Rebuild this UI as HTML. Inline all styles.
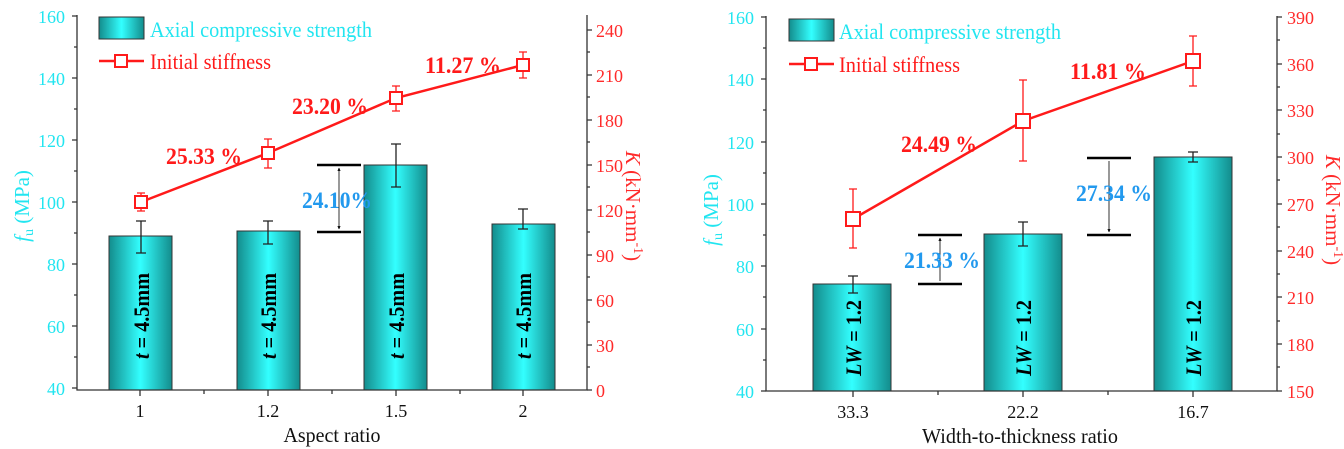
<!DOCTYPE html>
<html><head><meta charset="utf-8"><style>
html,body{margin:0;padding:0;background:#fff;width:1344px;height:449px;overflow:hidden}
svg{display:block}
text{font-family:"Liberation Serif",serif}
</style></head><body>
<svg width="1344" height="449" viewBox="0 0 1344 449" xmlns="http://www.w3.org/2000/svg">
<defs>
<linearGradient id="g" x1="0" x2="1" y1="0" y2="0">
<stop offset="0" stop-color="#138c8c"/><stop offset="0.5" stop-color="#33ffff"/><stop offset="1" stop-color="#138c8c"/>
</linearGradient>
<marker id="ah" viewBox="0 0 10 10" refX="9" refY="5" markerWidth="4" markerHeight="6" orient="auto-start-reverse"><path d="M0,0 L10,5 L0,10 z" fill="#000"/></marker>
</defs>

<!-- LEFT CHART -->
<g>
<g stroke="#333" stroke-width="1" fill="url(#g)">
<rect x="109" y="236" width="63" height="154"/>
<rect x="237" y="231" width="63" height="159"/>
<rect x="364" y="165" width="63" height="225"/>
<rect x="492" y="224" width="63" height="166"/>
</g>
<g stroke="#222" stroke-width="1.3" fill="none">
<path d="M141 221V253M136 221h10M136 253h10"/>
<path d="M268 221V244M263 221h10M263 244h10"/>
<path d="M396 144V187M391 144h10M391 187h10"/>
<path d="M523 209V229M518 209h10M518 229h10"/>
</g>
<g font-weight="bold" font-style="italic" font-size="22" fill="#000" text-anchor="middle">
<text transform="translate(149,316) rotate(-90)" textLength="86" lengthAdjust="spacingAndGlyphs">t <tspan font-style="normal">= 4.5mm</tspan></text>
<text transform="translate(276,316) rotate(-90)" textLength="86" lengthAdjust="spacingAndGlyphs">t <tspan font-style="normal">= 4.5mm</tspan></text>
<text transform="translate(404,316) rotate(-90)" textLength="86" lengthAdjust="spacingAndGlyphs">t <tspan font-style="normal">= 4.5mm</tspan></text>
<text transform="translate(531,316) rotate(-90)" textLength="86" lengthAdjust="spacingAndGlyphs">t <tspan font-style="normal">= 4.5mm</tspan></text>
</g>
<polyline points="141,202 268,153 396,98 523,65" fill="none" stroke="#ff1a1a" stroke-width="2.5"/>
<g stroke="#ff1a1a" stroke-width="1.3" fill="none">
<path d="M141 193V211M137 193h8M137 211h8"/>
<path d="M268 139V168M264 139h8M264 168h8"/>
<path d="M396 86V111M392 86h8M392 111h8"/>
<path d="M523 52V78M519 52h8M519 78h8"/>
</g>
<g stroke="#ff1a1a" stroke-width="2" fill="#fff">
<rect x="135" y="196" width="12" height="12"/>
<rect x="262" y="147" width="12" height="12"/>
<rect x="390" y="92" width="12" height="12"/>
<rect x="517" y="59" width="12" height="12"/>
</g>
<g stroke="#000">
<path d="M317 165H361M317 232H361" stroke-width="2.5"/>
<path d="M339 168V229" stroke-width="0.8" marker-start="url(#ah)" marker-end="url(#ah)"/>
</g>
<text x="337" y="208" font-size="23" font-weight="bold" fill="#2299ee" text-anchor="middle" textLength="70" lengthAdjust="spacingAndGlyphs">24.10%</text>
<g font-size="23" font-weight="bold" fill="#ff1a1a" text-anchor="middle">
<text x="204" y="164" textLength="76" lengthAdjust="spacingAndGlyphs">25.33 %</text>
<text x="330" y="114" textLength="76" lengthAdjust="spacingAndGlyphs">23.20 %</text>
<text x="463" y="73" textLength="76" lengthAdjust="spacingAndGlyphs">11.27 %</text>
</g>
<g stroke="#333" stroke-width="1.3" fill="none">
<path d="M77 15V390H587V15"/>
<path d="M72 16h5M72 78h5M72 140h5M72 202h5M72 264h5M72 326h5M72 388h5"/>
<path d="M74 47h3M74 109h3M74 171h3M74 233h3M74 295h3M74 357h3"/>
<path d="M140 390v6M268 390v6M396 390v6M523 390v6M204 390v4M332 390v4M460 390v4"/>
<path d="M587 30h5M587 75h5M587 120h5M587 165h5M587 210h5M587 255h5M587 300h5M587 345h5M587 390h5"/>
<path d="M587 52h3M587 97h3M587 142h3M587 187h3M587 232h3M587 277h3M587 322h3M587 367h3"/>
</g>
<g font-size="18" fill="#22e5f0" text-anchor="end">
<text x="65" y="23">160</text><text x="65" y="85">140</text><text x="65" y="147">120</text><text x="65" y="209">100</text><text x="65" y="271">80</text><text x="65" y="333">60</text><text x="65" y="395">40</text>
</g>
<g font-size="18" fill="#ff2a2a">
<text x="596" y="37">240</text><text x="596" y="82">210</text><text x="596" y="127">180</text><text x="596" y="172">150</text><text x="596" y="217">120</text><text x="596" y="262">90</text><text x="596" y="307">60</text><text x="596" y="352">30</text><text x="596" y="397">0</text>
</g>
<g font-size="18" fill="#111" text-anchor="middle">
<text x="140" y="417">1</text><text x="268" y="417">1.2</text><text x="396" y="417">1.5</text><text x="523" y="417">2</text>
</g>
<text x="332" y="442" font-size="21" fill="#111" text-anchor="middle" textLength="97" lengthAdjust="spacingAndGlyphs">Aspect ratio</text>
<text transform="translate(29,206) rotate(-90)" font-size="21" fill="#22e5f0" text-anchor="middle"><tspan font-style="italic">f</tspan><tspan font-size="14" dy="4">u</tspan><tspan dy="-4"> (MPa)</tspan></text>
<text transform="translate(626,206) rotate(90)" font-size="21" fill="#ff2a2a" text-anchor="middle"><tspan font-style="italic">K</tspan> (kN·mm<tspan font-size="14" dy="-8">-1</tspan><tspan dy="8">)</tspan></text>
<rect x="99" y="17" width="45" height="22" fill="url(#g)" stroke="#333"/>
<text x="150" y="37" font-size="22" fill="#22e5f0" textLength="222" lengthAdjust="spacingAndGlyphs">Axial compressive strength</text>
<path d="M99 61H144" stroke="#ff1a1a" stroke-width="2.5"/>
<rect x="115" y="55" width="12" height="12" fill="#fff" stroke="#ff1a1a" stroke-width="2"/>
<text x="150" y="69" font-size="22" fill="#ff1a1a" textLength="121" lengthAdjust="spacingAndGlyphs">Initial stiffness</text>
</g>

<!-- RIGHT CHART -->
<g>
<g stroke="#333" stroke-width="1" fill="url(#g)">
<rect x="813" y="284" width="78" height="107"/>
<rect x="984" y="234" width="78" height="157"/>
<rect x="1154" y="157" width="78" height="234"/>
</g>
<g stroke="#222" stroke-width="1.3" fill="none">
<path d="M853 276V293M848 276h10M848 293h10"/>
<path d="M1023 222V246M1018 222h10M1018 246h10"/>
<path d="M1193 152V162M1188 152h10M1188 162h10"/>
</g>
<g font-weight="bold" font-style="italic" font-size="22" fill="#000" text-anchor="middle">
<text transform="translate(861,338) rotate(-90)" textLength="76" lengthAdjust="spacingAndGlyphs">LW <tspan font-style="normal">= 1.2</tspan></text>
<text transform="translate(1031,338) rotate(-90)" textLength="76" lengthAdjust="spacingAndGlyphs">LW <tspan font-style="normal">= 1.2</tspan></text>
<text transform="translate(1201,338) rotate(-90)" textLength="76" lengthAdjust="spacingAndGlyphs">LW <tspan font-style="normal">= 1.2</tspan></text>
</g>
<polyline points="853,219 1023,121 1193,61" fill="none" stroke="#ff1a1a" stroke-width="2.5"/>
<g stroke="#ff1a1a" stroke-width="1.3" fill="none">
<path d="M853 189V248M849 189h8M849 248h8"/>
<path d="M1023 80V161M1019 80h8M1019 161h8"/>
<path d="M1193 36V86M1189 36h8M1189 86h8"/>
</g>
<g stroke="#ff1a1a" stroke-width="2" fill="#fff">
<rect x="846" y="212" width="14" height="14"/>
<rect x="1016" y="114" width="14" height="14"/>
<rect x="1186" y="54" width="14" height="14"/>
</g>
<g stroke="#000">
<path d="M918 235H962M918 284H962M1087 158H1131M1087 235H1131" stroke-width="2.5"/>
<path d="M940 238V281M1109 161V232" stroke-width="0.8" marker-start="url(#ah)" marker-end="url(#ah)"/>
</g>
<g font-size="23" font-weight="bold" fill="#2299ee" text-anchor="middle">
<text x="942" y="268" textLength="76" lengthAdjust="spacingAndGlyphs">21.33 %</text>
<text x="1114" y="201" textLength="76" lengthAdjust="spacingAndGlyphs">27.34 %</text>
</g>
<g font-size="23" font-weight="bold" fill="#ff1a1a" text-anchor="middle">
<text x="939" y="152" textLength="76" lengthAdjust="spacingAndGlyphs">24.49 %</text>
<text x="1108" y="79" textLength="76" lengthAdjust="spacingAndGlyphs">11.81 %</text>
</g>
<g stroke="#333" stroke-width="1.3" fill="none">
<path d="M766 16V391H1277V16"/>
<path d="M761 17h5M761 79h5M761 142h5M761 204h5M761 266h5M761 329h5M761 391h5"/>
<path d="M763 48h3M763 110h3M763 173h3M763 235h3M763 297h3M763 360h3"/>
<path d="M853 391v6M1023 391v6M1193 391v6M938 391v4M1108 391v4"/>
<path d="M1277 17h5M1277 64h5M1277 110h5M1277 157h5M1277 204h5M1277 251h5M1277 297h5M1277 344h5M1277 391h5"/>
<path d="M1277 40h3M1277 87h3M1277 134h3M1277 180h3M1277 227h3M1277 274h3M1277 321h3M1277 367h3"/>
</g>
<g font-size="18" fill="#22e5f0" text-anchor="end">
<text x="754" y="24">160</text><text x="754" y="86">140</text><text x="754" y="149">120</text><text x="754" y="211">100</text><text x="754" y="273">80</text><text x="754" y="336">60</text><text x="754" y="398">40</text>
</g>
<g font-size="18" fill="#ff2a2a">
<text x="1287" y="24">390</text><text x="1287" y="71">360</text><text x="1287" y="117">330</text><text x="1287" y="164">300</text><text x="1287" y="211">270</text><text x="1287" y="258">240</text><text x="1287" y="304">210</text><text x="1287" y="351">180</text><text x="1287" y="398">150</text>
</g>
<g font-size="18" fill="#111" text-anchor="middle">
<text x="853" y="418">33.3</text><text x="1023" y="418">22.2</text><text x="1193" y="418">16.7</text>
</g>
<text x="1020" y="443" font-size="21" fill="#111" text-anchor="middle" textLength="196" lengthAdjust="spacingAndGlyphs">Width-to-thickness ratio</text>
<text transform="translate(718,210) rotate(-90)" font-size="21" fill="#22e5f0" text-anchor="middle"><tspan font-style="italic">f</tspan><tspan font-size="14" dy="4">u</tspan><tspan dy="-4"> (MPa)</tspan></text>
<text transform="translate(1326,210) rotate(90)" font-size="21" fill="#ff2a2a" text-anchor="middle"><tspan font-style="italic">K</tspan> (kN·mm<tspan font-size="14" dy="-8">-1</tspan><tspan dy="8">)</tspan></text>
<rect x="789" y="19" width="45" height="22" fill="url(#g)" stroke="#333"/>
<text x="839" y="39" font-size="22" fill="#22e5f0" textLength="222" lengthAdjust="spacingAndGlyphs">Axial compressive strength</text>
<path d="M789 64H834" stroke="#ff1a1a" stroke-width="2.5"/>
<rect x="805" y="58" width="12" height="12" fill="#fff" stroke="#ff1a1a" stroke-width="2"/>
<text x="839" y="72" font-size="22" fill="#ff1a1a" textLength="121" lengthAdjust="spacingAndGlyphs">Initial stiffness</text>
</g>
</svg>
</body></html>
